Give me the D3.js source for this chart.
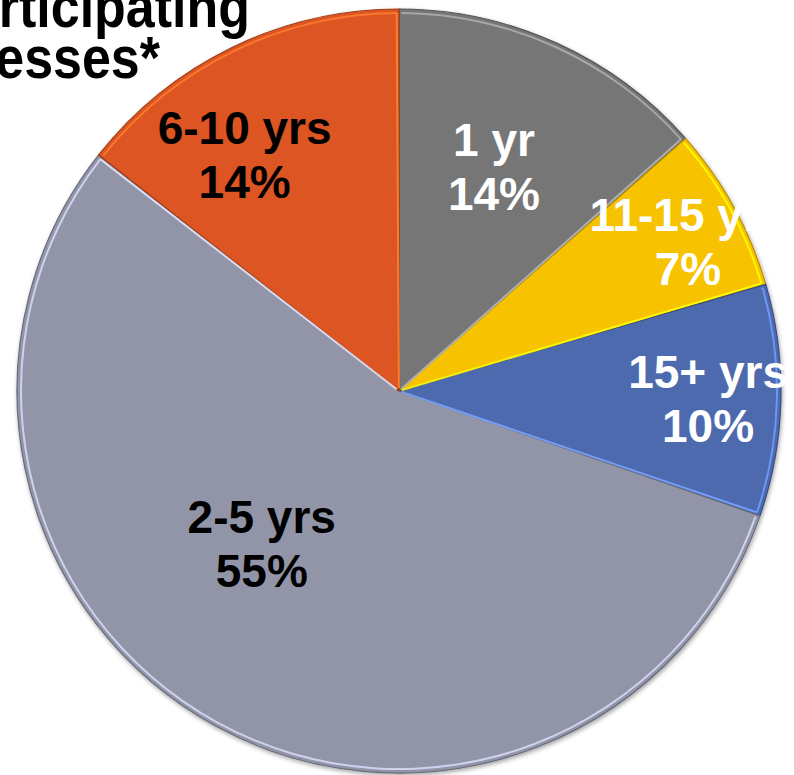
<!DOCTYPE html>
<html>
<head>
<meta charset="utf-8">
<script src="https://cdn.jsdelivr.net/npm/d3@7"></script>
<style>
  html, body { margin: 0; padding: 0; background: #fff; overflow: hidden; }
  svg { display: block; font-family: "Liberation Sans", Arial, sans-serif; }
</style>
</head>
<body>
<svg id="chart"></svg>
<script>
// ── Data ──────────────────────────────────────────────────────────────────────
// Slice sizes read from the slice boundaries; the labels show them rounded.
const categories = ['1 yr', '11-15 yrs', '15+ yrs', '2-5 yrs', '6-10 yrs'];
const shares     = [13.5, 7.0, 9.8, 55.3, 14.4];
const titleLines = ['Participating', 'Businesses*'];

// ── Styling / layout (kept apart from the data) ───────────────────────────────
const W = 794, H = 775;
const CX = 399, CY = 391, R = 382;
const COLORS = {
  '1 yr':      '#767676',
  '11-15 yrs': '#f7c200',
  '15+ yrs':   '#4e6baf',
  '2-5 yrs':   '#9295a8',
  '6-10 yrs':  '#dc5520',
};
const TEXT_FILL = {
  '1 yr': '#fff', '11-15 yrs': '#fff', '15+ yrs': '#fff',
  '2-5 yrs': '#000', '6-10 yrs': '#000',
};
// label radius (px) and angular nudge (deg) relative to slice mid-angle
const LABEL_PLACE = {
  '1 yr':      { r: 229, dA:   0.2 },
  '11-15 yrs': { r: 318, dA:   4.1 },
  '15+ yrs':   { r: 310, dA:   3.0 },
  '2-5 yrs':   { r: 218, dA:  10.4 },
  '6-10 yrs':  { r: 269, dA:  -9.1 },
};

const svg = d3.select('#chart')
  .attr('width', W)
  .attr('height', H)
  .attr('viewBox', `0 0 ${W} ${H}`);

const defs = svg.append('defs');
const shadow = defs.append('filter')
  .attr('id', 'shadow')
  .attr('x', '-10%').attr('y', '-10%')
  .attr('width', '120%').attr('height', '120%');
shadow.append('feDropShadow')
  .attr('dx', 1).attr('dy', 2)
  .attr('stdDeviation', 2)
  .attr('flood-color', '#000')
  .attr('flood-opacity', 0.35);

// ── Pie ───────────────────────────────────────────────────────────────────────
const pie = d3.pie().sort(null).value(d => d.value);
const slices = pie(categories.map((c, i) => ({ cat: c, value: shares[i] })));

const arcGen = d3.arc().innerRadius(0).outerRadius(R);
const rimGen = d3.arc().innerRadius(R - 5).outerRadius(R - 3);

const root = svg.append('g').attr('transform', `translate(${CX},${CY})`);

const pieG = root.append('g').attr('filter', 'url(#shadow)');

pieG.selectAll('path.slice')
  .data(slices)
  .join('path')
    .attr('class', 'slice')
    .attr('d', arcGen)
    .attr('fill', d => COLORS[d.data.cat])
    .attr('stroke', d => d3.color(COLORS[d.data.cat]).darker(0.9))
    .attr('stroke-width', 1.2)
    .attr('stroke-linejoin', 'round');

// bevel highlight along the rim
root.append('g').selectAll('path.rim')
  .data(slices)
  .join('path')
    .attr('class', 'rim')
    .attr('d', d => rimGen({ startAngle: d.startAngle + 0.006, endAngle: d.endAngle - 0.006 }))
    .attr('fill', d => d3.color(COLORS[d.data.cat]).brighter(1.1))
    .attr('opacity', 0.85);

// bevel highlight along the clockwise end edge of each slice
root.append('g').selectAll('line.edge')
  .data(slices)
  .join('line')
    .attr('class', 'edge')
    .attr('x1', d => 3 * Math.sin(d.endAngle - 0.02))
    .attr('y1', d => -3 * Math.cos(d.endAngle - 0.02))
    .attr('x2', d => (R - 4) * Math.sin(d.endAngle - 0.006))
    .attr('y2', d => -(R - 4) * Math.cos(d.endAngle - 0.006))
    .attr('stroke', d => d3.color(COLORS[d.data.cat]).brighter(1.2))
    .attr('stroke-width', 2)
    .attr('opacity', 0.9);

// ── Labels ────────────────────────────────────────────────────────────────────
const labels = root.append('g').selectAll('text.lbl')
  .data(slices)
  .join('text')
    .attr('class', 'lbl')
    .attr('transform', d => {
      const p = LABEL_PLACE[d.data.cat];
      const a = (d.startAngle + d.endAngle) / 2 + p.dA * Math.PI / 180;
      return `translate(${p.r * Math.sin(a)},${-p.r * Math.cos(a)})`;
    })
    .attr('text-anchor', 'middle')
    .attr('font-size', 46)
    .attr('font-weight', 'bold')
    .attr('fill', d => TEXT_FILL[d.data.cat]);

labels.append('tspan')
  .attr('x', 0).attr('y', -27)
  .text(d => d.data.cat);
labels.append('tspan')
  .attr('x', 0).attr('y', 27)
  .text(d => `${Math.round(d.value)}%`);

// ── Title (partly off-canvas, as in the source; glyphs slightly tall) ─────────
const titleEnds = [250, 160];
const titleBase = [27, 78];
svg.append('g').selectAll('text.title')
  .data(titleLines)
  .join('text')
    .attr('class', 'title')
    .attr('transform', (d, i) => `translate(${titleEnds[i]},${titleBase[i]}) scale(1,1.15)`)
    .attr('text-anchor', 'end')
    .attr('font-size', 52)
    .attr('font-weight', 'bold')
    .attr('fill', '#000')
    .text(d => d);
</script>
</body>
</html>
